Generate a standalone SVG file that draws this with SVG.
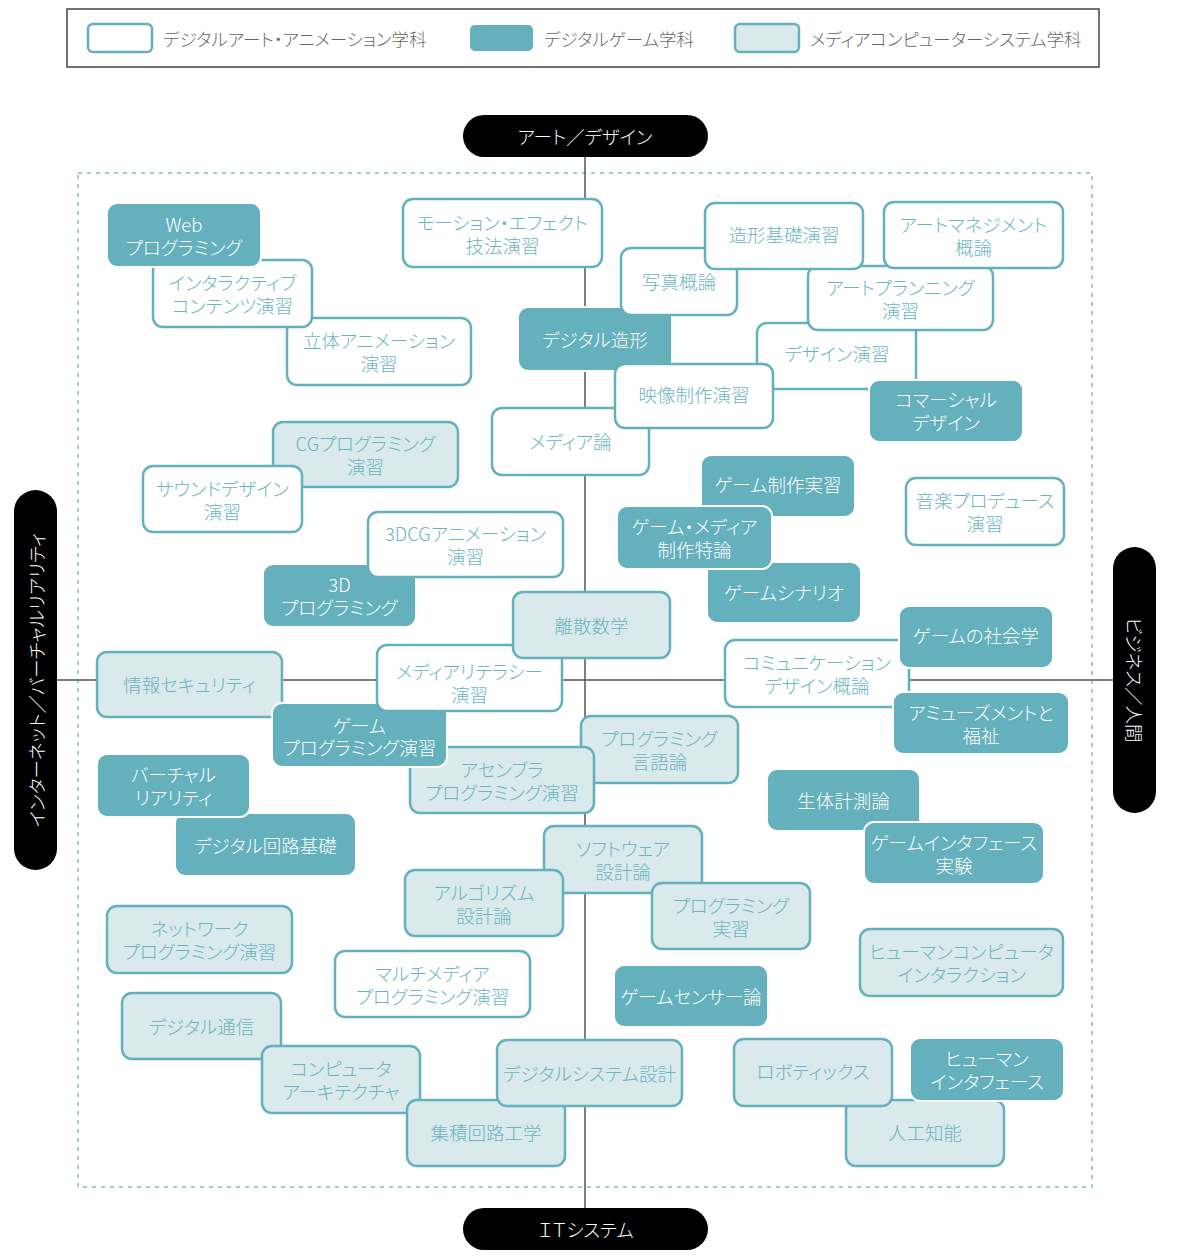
<svg xmlns="http://www.w3.org/2000/svg" width="1177" height="1259" viewBox="0 0 1177 1259">
<style>
text{font-family:"Noto Sans CJK JP","Noto Sans",sans-serif;font-weight:300;font-feature-settings:"palt";text-anchor:middle;dominant-baseline:central}
.w{fill:#fff;stroke:#64b0bc;stroke-width:2.5}
.l{fill:#d9e9ec;stroke:#64b0bc;stroke-width:2.5}
.d{fill:#64b0bc;stroke:#fff;stroke-width:2}
.t{fill:#6ab4bf;font-size:18.5px}
.tw{fill:#fff;font-size:18.5px}
.lg{fill:#666;font-size:17.5px;text-anchor:start}
.pill{fill:#000}
.pt{fill:#fff;font-size:18.5px}
.axis{stroke:#555;stroke-width:1.5;fill:none}
</style>
<rect x="0" y="0" width="1177" height="1259" fill="#fff"/>
<g id="legend">
<rect x="67" y="9" width="1032" height="58" fill="#fff" stroke="#444" stroke-width="1.5"/>
<rect x="88" y="24" width="64" height="28" rx="5" class="w"/>
<text class="lg" x="163" y="38">デジタルアート・アニメーション学科</text>
<rect x="470" y="25" width="63" height="26" rx="5" fill="#64b0bc"/>
<text class="lg" x="544" y="38">デジタルゲーム学科</text>
<rect x="735" y="24" width="64" height="28" rx="5" class="l"/>
<text class="lg" x="810" y="38">メディアコンピューターシステム学科</text>
</g>
<rect id="frame" x="78" y="173" width="1014" height="1014" fill="none" stroke="#7fbfc9" stroke-width="1.5" stroke-dasharray="4 5"/>
<g id="connectors">
<line class="axis" x1="585" y1="157" x2="585" y2="1208"/>
<line class="axis" x1="57" y1="680" x2="1113" y2="680"/>
</g>
<g id="axis-top"><rect class="pill" x="463" y="115" width="245" height="42" rx="21"/><text class="pt" x="585" y="136">アート／デザイン</text></g>
<g id="axis-bottom"><rect class="pill" x="463" y="1208" width="245" height="42" rx="21"/><text class="pt" x="586" y="1229">ＩＴシステム</text></g>
<g id="axis-left"><rect class="pill" x="14" y="490" width="43" height="380" rx="21.5"/><text class="pt" x="36" y="680" transform="rotate(-90 36 680)">インターネット／バーチャルリアリティ</text></g>
<g id="axis-right"><rect class="pill" x="1113" y="547" width="43" height="266" rx="21.5"/><text class="pt" x="1135" y="680" transform="rotate(90 1135 680)">ビジネス／人間</text></g>

<g id="n-ritai"><rect class="w" x="287" y="318" width="184" height="67" rx="10"/><text class="t"><tspan x="379" y="340">立体アニメーション</tspan><tspan x="379" y="363">演習</tspan></text></g>
<g id="n-interactive"><rect class="w" x="153" y="260" width="159" height="67" rx="10"/><text class="t"><tspan x="232.5" y="282">インタラクティブ</tspan><tspan x="232.5" y="305">コンテンツ演習</tspan></text></g>
<g id="n-web"><rect class="d" x="107" y="203" width="154" height="64" rx="10"/><text class="tw"><tspan x="184" y="223.5">Web</tspan><tspan x="184" y="246.5">プログラミング</tspan></text></g>
<g id="n-motion"><rect class="w" x="403" y="199" width="199" height="68" rx="10"/><text class="t"><tspan x="502.5" y="221.5">モーション・エフェクト</tspan><tspan x="502.5" y="244.5">技法演習</tspan></text></g>

<g id="n-dzokei"><rect class="d" x="518" y="307" width="154" height="64" rx="10"/><text class="tw" x="595" y="339">デジタル造形</text></g>
<g id="n-mediaron"><rect class="w" x="492" y="408" width="157" height="67" rx="10"/><text class="t" x="570.5" y="441">メディア論</text></g>
<g id="n-design"><rect class="w" x="757" y="323" width="159" height="66" rx="10"/><text class="t" x="837" y="353">デザイン演習</text></g>
<g id="n-artplan"><rect class="w" x="808" y="266" width="185" height="64" rx="10"/><text class="t"><tspan x="900.5" y="286.5">アートプランニング</tspan><tspan x="900.5" y="309.5">演習</tspan></text></g>
<g id="n-shashin"><rect class="w" x="621" y="248" width="116" height="67" rx="10"/><text class="t" x="679" y="281">写真概論</text></g>
<g id="n-zokeikiso"><rect class="w" x="705" y="203" width="158" height="66" rx="10"/><text class="t" x="784" y="234">造形基礎演習</text></g>
<g id="n-artmgmt"><rect class="w" x="884" y="202" width="179" height="66" rx="10"/><text class="t"><tspan x="973.5" y="223.5">アートマネジメント</tspan><tspan x="973.5" y="246.5">概論</tspan></text></g>
<g id="n-eizo"><rect class="w" x="615" y="364" width="158" height="64" rx="10"/><text class="t" x="694" y="394">映像制作演習</text></g>
<g id="n-commercial"><rect class="d" x="869" y="380" width="154" height="62" rx="10"/><text class="tw"><tspan x="946" y="399">コマーシャル</tspan><tspan x="946" y="422">デザイン</tspan></text></g>

<g id="n-cg"><rect class="l" x="273" y="422" width="185" height="65" rx="10"/><text class="t"><tspan x="365.5" y="443">CGプログラミング</tspan><tspan x="365.5" y="466">演習</tspan></text></g>
<g id="n-sound"><rect class="w" x="143" y="466" width="159" height="66" rx="10"/><text class="t"><tspan x="222.5" y="487.5">サウンドデザイン</tspan><tspan x="222.5" y="510.5">演習</tspan></text></g>
<g id="n-3dprog"><rect class="d" x="263" y="564" width="153" height="63" rx="10"/><text class="tw"><tspan x="339.5" y="584">3D</tspan><tspan x="339.5" y="607">プログラミング</tspan></text></g>
<g id="n-3dcg"><rect class="w" x="368" y="512" width="195" height="65" rx="10"/><text class="t"><tspan x="465.5" y="533">3DCGアニメーション</tspan><tspan x="465.5" y="556">演習</tspan></text></g>

<g id="n-joho"><rect class="l" x="97" y="652" width="185" height="65" rx="10"/><text class="t" x="189.5" y="684">情報セキュリティ</text></g>
<g id="n-proglang"><rect class="l" x="581" y="716" width="157" height="67" rx="10"/><text class="t"><tspan x="659.5" y="738">プログラミング</tspan><tspan x="659.5" y="761">言語論</tspan></text></g>
<g id="n-assembler"><rect class="l" x="410" y="747" width="184" height="66" rx="10"/><text class="t"><tspan x="502" y="768.5">アセンブラ</tspan><tspan x="502" y="791.5">プログラミング演習</tspan></text></g>
<g id="n-gameprog"><rect class="d" x="272" y="703" width="175" height="64" rx="10"/><text class="tw"><tspan x="359.5" y="724.5">ゲーム</tspan><tspan x="359.5" y="747">プログラミング演習</tspan></text></g>
<g id="n-medialit"><rect class="w" x="377" y="645" width="185" height="66" rx="10"/><text class="t"><tspan x="469.5" y="671">メディアリテラシー</tspan><tspan x="469.5" y="694">演習</tspan></text></g>
<g id="n-risan"><rect class="l" x="513" y="592" width="157" height="66" rx="10"/><text class="t" x="591.5" y="625">離散数学</text></g>
<g id="n-circuit"><rect class="d" x="175" y="813" width="181" height="63" rx="10"/><text class="tw" x="265.5" y="844.5">デジタル回路基礎</text></g>
<g id="n-virtual"><rect class="d" x="97" y="754" width="153" height="63" rx="10"/><text class="tw"><tspan x="173.5" y="774">バーチャル</tspan><tspan x="173.5" y="797">リアリティ</tspan></text></g>

<g id="n-gameseisaku"><rect class="d" x="701" y="455" width="154" height="62" rx="10"/><text class="tw" x="778" y="484">ゲーム制作実習</text></g>
<g id="n-scenario"><rect class="d" x="707" y="562" width="154" height="61" rx="10"/><text class="tw" x="784" y="592">ゲームシナリオ</text></g>
<g id="n-gamemedia"><rect class="d" x="617" y="506" width="155" height="63" rx="10"/><text class="tw"><tspan x="694.5" y="526">ゲーム・メディア</tspan><tspan x="694.5" y="549">制作特論</tspan></text></g>
<g id="n-music"><rect class="w" x="906" y="478" width="158" height="67" rx="10"/><text class="t"><tspan x="985" y="500">音楽プロデュース</tspan><tspan x="985" y="523">演習</tspan></text></g>
<g id="n-comm"><rect class="w" x="725" y="640" width="184" height="67" rx="10"/><text class="t"><tspan x="817" y="662">コミュニケーション</tspan><tspan x="817" y="685">デザイン概論</tspan></text></g>
<g id="n-gamesoc"><rect class="d" x="899" y="606" width="154" height="62" rx="10"/><text class="tw" x="976" y="635">ゲームの社会学</text></g>
<g id="n-amuse"><rect class="d" x="893" y="692" width="176" height="62" rx="10"/><text class="tw"><tspan x="981" y="711.5">アミューズメントと</tspan><tspan x="981" y="734.5">福祉</tspan></text></g>
<g id="n-seitai"><rect class="d" x="767" y="769" width="153" height="62" rx="10"/><text class="tw" x="843.5" y="800">生体計測論</text></g>
<g id="n-gameif"><rect class="d" x="864" y="822" width="180" height="62" rx="10"/><text class="tw"><tspan x="954" y="842">ゲームインタフェース</tspan><tspan x="954" y="865">実験</tspan></text></g>
<g id="n-hci"><rect class="l" x="860" y="929" width="203" height="67" rx="10"/><text class="t"><tspan x="961.5" y="951">ヒューマンコンピュータ</tspan><tspan x="961.5" y="974">インタラクション</tspan></text></g>

<g id="n-software"><rect class="l" x="544" y="826" width="158" height="67" rx="10"/><text class="t"><tspan x="623" y="848">ソフトウェア</tspan><tspan x="623" y="871">設計論</tspan></text></g>
<g id="n-algorithm"><rect class="l" x="405" y="870" width="158" height="66" rx="10"/><text class="t"><tspan x="484" y="891.5">アルゴリズム</tspan><tspan x="484" y="914.5">設計論</tspan></text></g>
<g id="n-progjisshu"><rect class="l" x="652" y="883" width="158" height="66" rx="10"/><text class="t"><tspan x="731" y="904.5">プログラミング</tspan><tspan x="731" y="927.5">実習</tspan></text></g>
<g id="n-network"><rect class="l" x="107" y="906" width="185" height="67" rx="10"/><text class="t"><tspan x="199.5" y="928">ネットワーク</tspan><tspan x="199.5" y="951">プログラミング演習</tspan></text></g>
<g id="n-multimedia"><rect class="w" x="335" y="951" width="195" height="66" rx="10"/><text class="t"><tspan x="432.5" y="972.5">マルチメディア</tspan><tspan x="432.5" y="995.5">プログラミング演習</tspan></text></g>
<g id="n-gamesensor"><rect class="d" x="614" y="965" width="154" height="62" rx="10"/><text class="tw" x="691" y="996">ゲームセンサー論</text></g>
<g id="n-dcomm"><rect class="l" x="122" y="993" width="159" height="66" rx="10"/><text class="t" x="201.5" y="1026">デジタル通信</text></g>
<g id="n-computer"><rect class="l" x="262" y="1046" width="158" height="67" rx="10"/><text class="t"><tspan x="341" y="1068">コンピュータ</tspan><tspan x="341" y="1091">アーキテクチャ</tspan></text></g>
<g id="n-shuseki"><rect class="l" x="407" y="1100" width="158" height="66" rx="10"/><text class="t" x="486" y="1132">集積回路工学</text></g>
<g id="n-dsys"><rect class="l" x="497" y="1040" width="185" height="66" rx="10"/><text class="t" x="589.5" y="1073">デジタルシステム設計</text></g>
<g id="n-ai"><rect class="l" x="846" y="1100" width="158" height="66" rx="10"/><text class="t" x="925" y="1132">人工知能</text></g>
<g id="n-robotics"><rect class="l" x="734" y="1039" width="158" height="67" rx="10"/><text class="t" x="813" y="1071">ロボティックス</text></g>
<g id="n-humanif"><rect class="d" x="910" y="1038" width="154" height="63" rx="10"/><text class="tw"><tspan x="987" y="1058">ヒューマン</tspan><tspan x="987" y="1081">インタフェース</tspan></text></g>
</svg>
